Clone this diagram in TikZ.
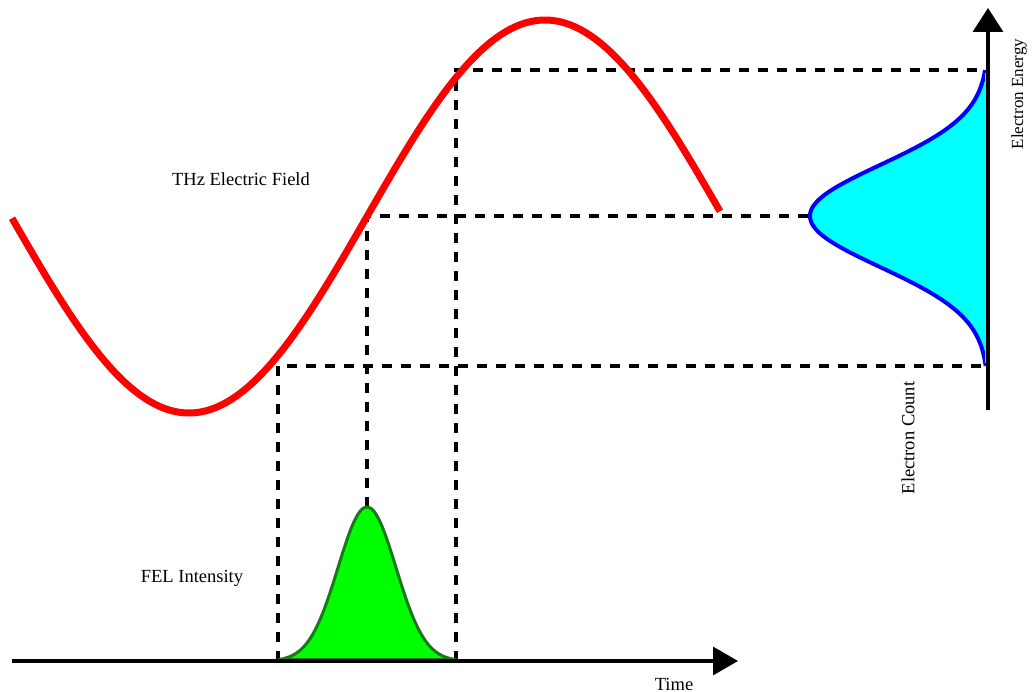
\documentclass[tikz,border=0pt]{standalone}
\usepackage{fontspec}
\setmainfont{Liberation Serif}
\usetikzlibrary{arrows.meta}
\definecolor{fieldred}{RGB}{255,0,0}
\definecolor{pulsegreen}{RGB}{0,255,0}
\definecolor{pulseedge}{RGB}{26,120,26}
\definecolor{spreadcyan}{RGB}{0,255,255}
\definecolor{spreadblue}{RGB}{0,0,255}
\tikzset{
  lbl/.style={font=\fontsize{18.5}{22}\selectfont, inner sep=0pt},
  guide/.style={draw=black, line width=3.2pt, dash pattern=on 10pt off 9pt},
  axisline/.style={draw=black, line width=3.5pt},
}
\begin{document}
\begin{tikzpicture}[x=1pt,y=-1pt]
\useasboundingbox (0,0) rectangle (1033,692);
% key points
\coordinate (p1t) at (278,366);
\coordinate (p1b) at (278,661);
\coordinate (p2t) at (367,216);
\coordinate (p2b) at (367,507);
\coordinate (p3t) at (456,70);
\coordinate (p3b) at (456,661);
\coordinate (e1) at (988,70);
\coordinate (e2) at (810,216);
\coordinate (e3) at (988,366);
% dashed guides
\draw[guide] (p1b) -- (p1t) -- (e3);
\draw[guide] (p2b) -- (p2t) -- (e2);
\draw[guide] (p3b) -- (p3t) -- (e1);
% THz field
\draw[fieldred, line width=7pt, domain=12:720, samples=200]
  plot (\x, {216.5+196.5*cos(0.505618*(\x-189))});
% FEL pulse
\filldraw[fill=pulsegreen, draw=pulseedge, line width=3pt, domain=278:456, samples=120]
  plot (\x, {661-154*exp(-0.5*((\x-367)/29)^2)}) -- cycle;
% electron energy distribution
\filldraw[fill=spreadcyan, draw=spreadblue, line width=4pt, domain=70:366, samples=150]
  plot ({988-178*exp(-0.5*((\x-216)/51)^2)}, \x);
\fill[spreadcyan] (985,73) rectangle (988,363);
% axes
\coordinate (t0) at (12,661);
\coordinate (t1) at (738,661);
\coordinate (v0) at (988,410);
\coordinate (v1) at (988,8);
\draw[axisline, -{Triangle[length=25pt,width=28pt]}] (t0) -- (t1);
\draw[axisline, -{Triangle[length=24pt,width=30pt]}] (v0) -- (v1);
% labels
\node[lbl] (thz) at (241,179) {THz Electric Field};
\node[lbl] (fel) at (192,578) {FEL Intensity};
\node[lbl] (time) at (674,684) {Time};
\node[lbl, font=\fontsize{17}{20}\selectfont, rotate=90] (energy) at (1019,94) {Electron Energy};
\node[lbl, rotate=90] (count) at (908,438) {Electron Count};
\end{tikzpicture}
\end{document}
